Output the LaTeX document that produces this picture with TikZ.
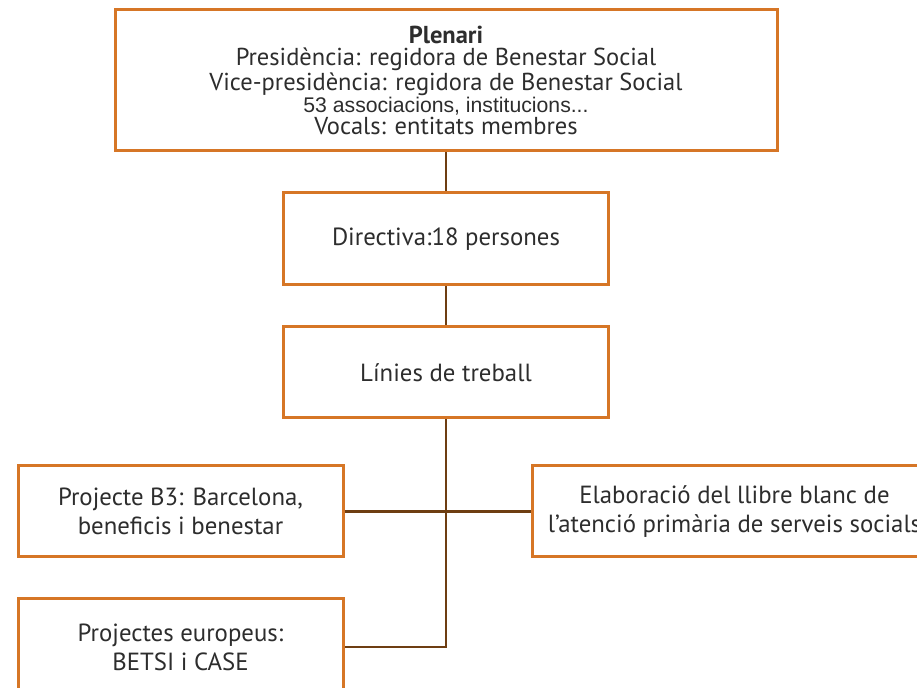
\documentclass[tikz,border=0pt]{standalone}
\usepackage{fontspec}
\setmainfont{PT Sans}
\newfontfamily\arialfont{Liberation Sans}
\usetikzlibrary{positioning}

\definecolor{boxorange}{RGB}{214,118,38}
\definecolor{linkbrown}{RGB}{110,62,18}
\definecolor{textgray}{RGB}{45,45,45}

\tikzset{
  orgbox/.style={draw=boxorange, line width=1.5pt, fill=white, align=center,
    text=textgray, inner sep=0pt, font=\fontsize{12.4}{14.5}\selectfont},
  link/.style={draw=linkbrown, line width=1.1pt}
}

\begin{document}
\begin{tikzpicture}[x=0.5pt, y=-0.5pt]

        \useasboundingbox (0,0) rectangle (917,688);
        \clip (0,0) rectangle (917,688);

        % boxes
        \node [orgbox, minimum width=331pt, minimum height=70.5pt,
               font=\fontsize{12.25}{11}\selectfont] (plenari) at (446, 80.5)
              {\textbf{Plenari}\\
               Presidència: regidora de Benestar Social\\
               Vice-presidència: regidora de Benestar Social\\
               {\arialfont\fontsize{10.6}{11}\selectfont 53 associacions, institucions...}\\
               Vocals: entitats membres};
        \node [orgbox, minimum width=162.5pt, minimum height=46pt] (directiva) at (446, 239)
              {Directiva:18 persones};
        \node [orgbox, minimum width=162.5pt, minimum height=45.5pt] (linies) at (446, 372.5)
              {Línies de treball};
        \node [orgbox, minimum width=162.5pt, minimum height=45.5pt] (projb) at (180.5, 511.5)
              {Projecte B3: Barcelona,\\ beneficis i benestar};
        \node [orgbox, minimum width=202.5pt, minimum height=45.5pt] (llibre) at (734.5, 511.5)
              {Elaboració del llibre blanc de\\ l'atenció primària de serveis socials};
        \node [orgbox, minimum width=162.5pt, minimum height=48pt] (europ) at (180.5, 647)
              {Projectes europeus:\\ BETSI i CASE};

        % connectors
        \draw[link] (plenari) -- (directiva);
        \draw[link] (directiva) -- (linies);
        \draw[link] (projb) -- (llibre);
        \draw[link] (linies.south) -- (linies.south |- europ.east) -- (europ.east);

\end{tikzpicture}
\end{document}
